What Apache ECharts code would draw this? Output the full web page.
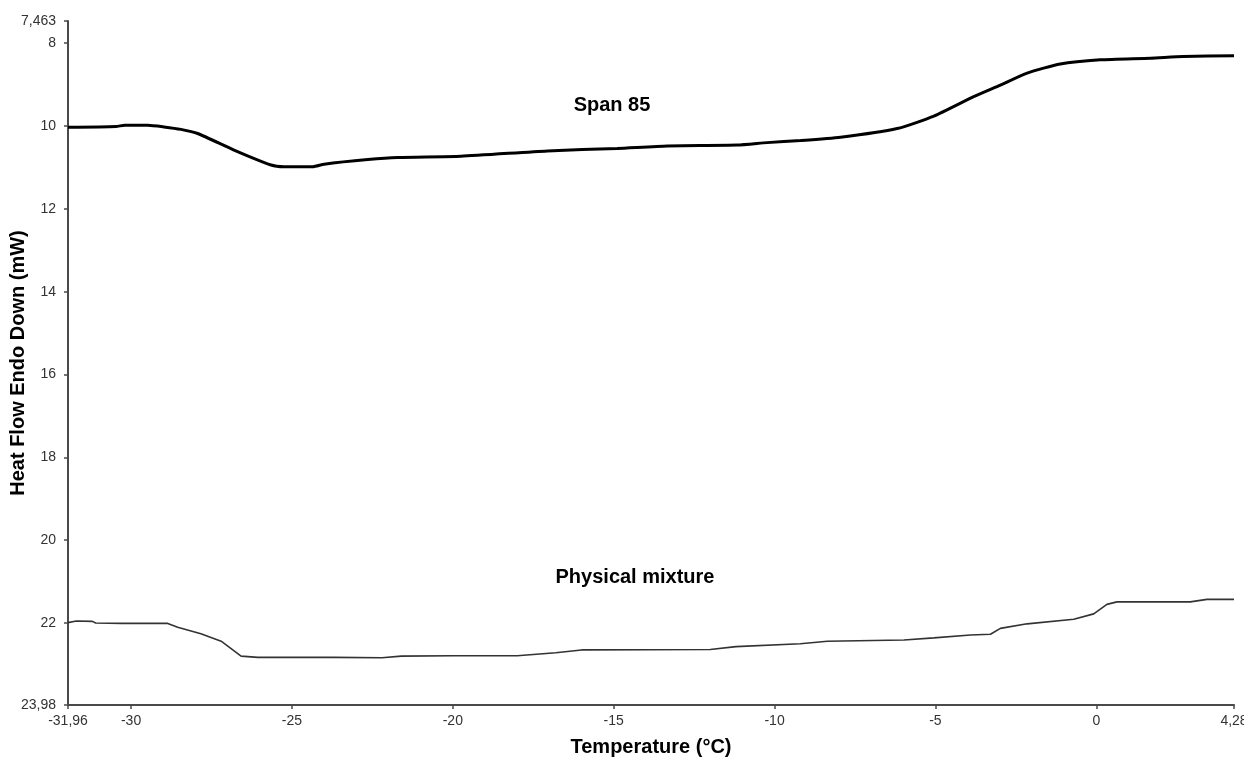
<!DOCTYPE html>
<html>
<head>
<meta charset="utf-8">
<script src="https://cdn.jsdelivr.net/npm/echarts@6/dist/echarts.min.js"></script>
<style>
  html, body { margin: 0; padding: 0; background: #fff; }
  #chart { width: 1244px; height: 758px; }
</style>
</head>
<body>
<div id="chart"></div>
<script>
// temperature (°C) / heat flow (mW)
const span85Temp = [-31.96, -30.47, -30.2, -29.48, -28.98, -28.45, -27.93, -26.8, -25.65, -25.25, -24.35, -24.0,
  -22.64, -21.71, -19.75, -17.06, -14.89, -13.33, -11.16, -10.23, -9.19, -7.95, -6.19, -5.05, -3.81, -2.98,
  -2.15, -1.12, 0.12, 1.68, 2.7, 4.28];
const span85Flow = [10.03, 10.01, 9.98, 9.98, 10.02, 10.08, 10.18, 10.58, 10.94, 10.98, 10.98, 10.92,
  10.81, 10.76, 10.73, 10.6, 10.54, 10.48, 10.46, 10.4, 10.35, 10.27, 10.06, 9.76, 9.29, 9.01,
  8.72, 8.5, 8.4, 8.36, 8.32, 8.3];

const mixTemp = [-31.96, -31.7, -31.2, -31.1, -30.3, -28.86, -28.55, -27.83, -27.2, -26.58, -26.06, -23.7,
  -22.2, -21.6, -20, -18, -16.8, -16, -12, -11.2, -9.2, -8.36, -5.98, -5.05, -3.91, -3.29, -2.98,
  -2.15, -0.7, -0.08, 0.33, 0.64, 2.92, 3.44, 4.28];
const mixFlow = [21.99, 21.95, 21.96, 22.0, 22.01, 22.01, 22.1, 22.26, 22.44, 22.8, 22.83, 22.83,
  22.84, 22.8, 22.79, 22.79, 22.72, 22.65, 22.64, 22.57, 22.5, 22.44, 22.41, 22.36, 22.29, 22.27, 22.13,
  22.02, 21.91, 21.78, 21.55, 21.49, 21.49, 21.43, 21.43];

const xTicks = [-31.96, -30, -25, -20, -15, -10, -5, 0, 4.28];
const yTicks = [7.463, 8, 10, 12, 14, 16, 18, 20, 22, 23.98];

const zip = (a, b) => a.map((v, i) => [v, b[i]]);
const comma = v => String(v).replace('.', ',');

const font = 'Liberation Sans, Arial, sans-serif';
const axisCol = '#4a4a4a';

const chart = echarts.init(document.getElementById('chart'));
chart.setOption({
  animation: false,
  backgroundColor: '#fff',
  grid: { left: 68, right: 10, top: 21, bottom: 53, containLabel: false, outerBoundsMode: 'none' },
  xAxis: {
    type: 'value',
    min: -31.96,
    max: 4.28,
    name: 'Temperature (°C)',
    nameLocation: 'middle',
    nameGap: 32,
    nameTextStyle: { fontFamily: font, fontSize: 20, fontWeight: 'bold', color: '#000' },
    axisLine: { show: true, onZero: false, lineStyle: { color: axisCol, width: 2 } },
    axisTick: { show: true, length: 4, customValues: xTicks, lineStyle: { color: axisCol, width: 1.5 } },
    axisLabel: { customValues: xTicks, formatter: comma, fontFamily: font, fontSize: 14, color: '#333', margin: 9 },
    splitLine: { show: false }
  },
  yAxis: {
    type: 'value',
    inverse: true,
    min: 7.463,
    max: 23.98,
    name: 'Heat Flow Endo Down (mW)',
    nameLocation: 'middle',
    nameGap: 40,
    nameMoveOverlap: false,
    nameTextStyle: { fontFamily: font, fontSize: 20, fontWeight: 'bold', color: '#000' },
    axisLine: { show: true, onZero: false, lineStyle: { color: axisCol, width: 2 } },
    axisTick: { show: true, length: 4, customValues: yTicks, lineStyle: { color: axisCol, width: 1.5 } },
    axisLabel: { customValues: yTicks, formatter: comma, fontFamily: font, fontSize: 14, color: '#333', margin: 12 },
    splitLine: { show: false }
  },
  graphic: [
    { type: 'text', style: { text: 'Span 85', x: 612, y: 105, align: 'center', verticalAlign: 'middle', font: 'bold 20px ' + font, fill: '#000' } },
    { type: 'text', style: { text: 'Physical mixture', x: 635, y: 577, align: 'center', verticalAlign: 'middle', font: 'bold 20px ' + font, fill: '#000' } }
  ],
  series: [
    {
      name: 'Span 85',
      type: 'line',
      data: zip(span85Temp, span85Flow),
      smooth: 0.2,
      showSymbol: false,
      lineStyle: { color: '#000', width: 3 }
    },
    {
      name: 'Physical mixture',
      type: 'line',
      data: zip(mixTemp, mixFlow),
      showSymbol: false,
      lineStyle: { color: '#333', width: 1.6 }
    }
  ]
});
</script>
</body>
</html>
